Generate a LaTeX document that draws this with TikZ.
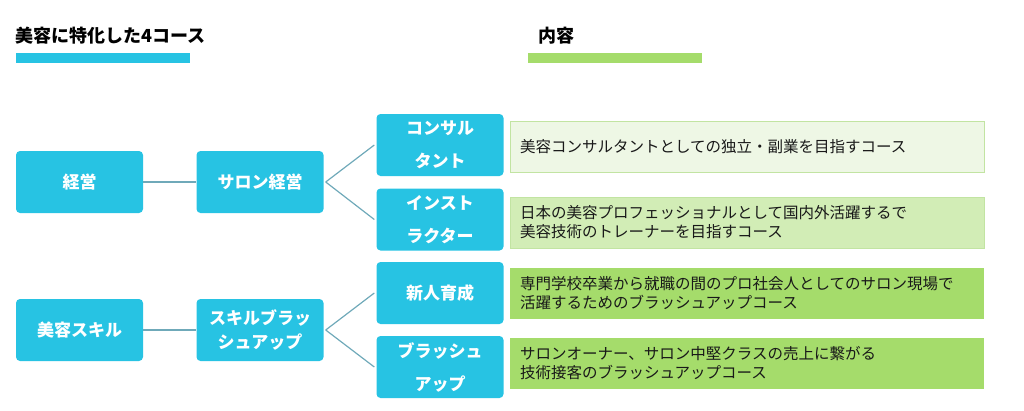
\documentclass[tikz,border=0pt]{standalone}
\usepackage{fontspec}
\setmainfont{Noto Sans CJK JP}
\usetikzlibrary{positioning}
\definecolor{skyblue}{HTML}{27C3E3}
\definecolor{leaf}{HTML}{A5DC6B}
\definecolor{paleleaf}{HTML}{EEF7E5}
\definecolor{midleaf}{HTML}{D2EDB6}
\definecolor{leafline}{HTML}{C2E4A2}
\definecolor{linkline}{HTML}{6FA9B9}
\tikzset{
	course/.style={fill=skyblue,rounded corners=4pt,minimum width=127pt,minimum height=62pt,text=white,align=center,inner sep=2pt},
	big/.style={font=\bfseries\fontsize{17}{33}\selectfont},
	tight/.style={font=\bfseries\fontsize{17}{24}\selectfont},
	detail/.style={minimum width=474pt,minimum height=51pt,text width=454pt,align=left,inner xsep=10pt,text=black!90,font=\fontsize{15.5}{19}\selectfont},
	pale/.style={fill=paleleaf,draw=leafline,line width=1pt},
	mid/.style={fill=midleaf,draw=leafline,line width=1pt},
	full/.style={fill=leaf},
	heading/.style={font=\bfseries\fontsize{18}{20}\selectfont,text=black},
	link/.style={draw=linkline,line width=1.2pt}
}
\begin{document}
\begin{tikzpicture}[x=1pt,y=-1pt]
			\useasboundingbox (0,0) rectangle (1024,410);
			\node[heading,anchor=west,inner sep=0pt] (ttl) at (15,36) {美容に特化した4コース};
			\node[heading,anchor=west,inner sep=0pt] (cnt) at (538,36) {内容};
			\fill[skyblue] (16,53) rectangle (190,63);
			\fill[leaf] (528,53) rectangle (702,63);
			
			\node[course,big] (mgt) at (79.5,182) {経営};
			\node[course,big] (skl) at (79.5,330) {美容スキル};
			\node[course,big] (sal) at (260,182) {サロン経営};
			\node[course,tight] (bru) at (260,330) {スキルブラッ\\シュアップ};
			\node[course,big] (csl) at (440,145) {コンサル\\タント};
			\node[course,big] (ins) at (440,219.5) {インスト\\ラクター};
			\node[course,big] (new) at (440,293) {新人育成};
			\node[course,big] (bup) at (440,367) {ブラッシュ\\アップ};
			
			\node[detail,pale] (dcsl) at (747,146.5) {美容コンサルタントとしての独立・副業を目指すコース};
			\node[detail,mid] (dins) at (747,222.5) {日本の美容プロフェッショナルとして国内外活躍するで\\美容技術のトレーナーを目指すコース};
			\node[detail,full] (dnew) at (747,293) {専門学校卒業から就職の間のプロ社会人としてのサロン現場で\\活躍するためのブラッシュアップコース};
			\node[detail,full] (dbup) at (747,363.5) {サロンオーナー、サロン中堅クラスの売上に繋がる\\技術接客のブラッシュアップコース};
			
			\draw[link] (mgt) -- (sal);
			\draw[link] (skl) -- (bru);
			\draw[link] ([xshift=2pt]sal.east) -- ([xshift=-2pt]csl.west);
			\draw[link] ([xshift=2pt]sal.east) -- ([xshift=-2pt]ins.west);
			\draw[link] ([xshift=2pt]bru.east) -- ([xshift=-2pt]new.west);
			\draw[link] ([xshift=2pt]bru.east) -- ([xshift=-2pt]bup.west);
		\end{tikzpicture}
\end{document}
